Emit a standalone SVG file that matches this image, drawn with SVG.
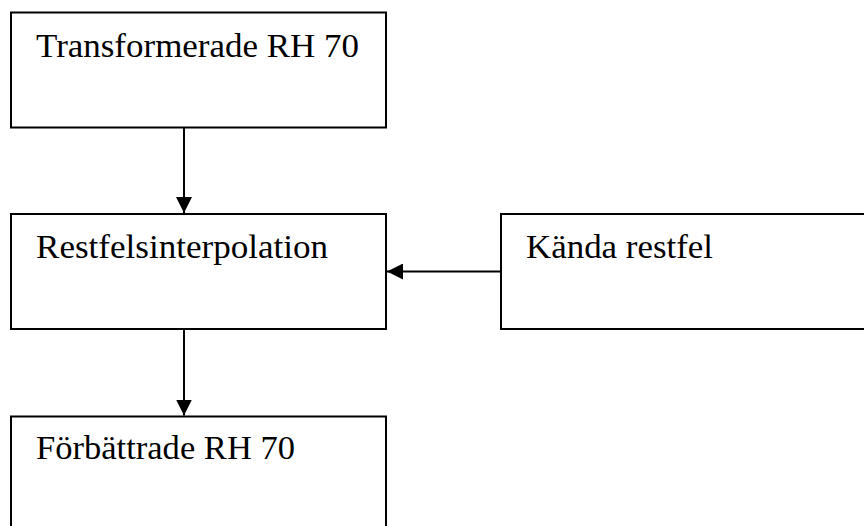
<svg xmlns="http://www.w3.org/2000/svg" width="864" height="526" viewBox="0 0 864 526">
<defs>
<style>
.box{fill:#fff;stroke:#000;stroke-width:2}
.lbl{font-family:"Liberation Serif","DejaVu Serif",serif;font-size:34px;fill:#000}
.con{stroke:#000;stroke-width:2;fill:none;marker-end:url(#ah)}
</style>
<marker id="ah" markerUnits="userSpaceOnUse" markerWidth="16" markerHeight="16" viewBox="0 0 16 16" refX="16" refY="8" orient="auto">
<path d="M0,0 L16,8 L0,16 Z" fill="#000"/>
</marker>
</defs>
<rect width="864" height="526" fill="#fff"/>
<g id="n1"><rect class="box" x="11" y="12.5" width="375" height="115"/><text class="lbl" x="36" y="57" textLength="323" lengthAdjust="spacingAndGlyphs">Transformerade RH 70</text></g>
<g id="n2"><rect class="box" x="11" y="214" width="375" height="115"/><text class="lbl" x="36" y="258" textLength="292" lengthAdjust="spacingAndGlyphs">Restfelsinterpolation</text></g>
<g id="n3"><rect class="box" x="501" y="214" width="375" height="115"/><text class="lbl" x="526" y="258" textLength="187" lengthAdjust="spacingAndGlyphs">Kända restfel</text></g>
<g id="n4"><rect class="box" x="11" y="416.5" width="375" height="115"/><text class="lbl" x="36" y="459" textLength="259" lengthAdjust="spacingAndGlyphs">Förbättrade RH 70</text></g>
<g id="connectors">
<line class="con" x1="184" y1="128" x2="184" y2="213"/>
<line class="con" x1="500" y1="271.5" x2="387" y2="271.5"/>
<line class="con" x1="184" y1="330" x2="184" y2="415.5"/>
</g>
</svg>
